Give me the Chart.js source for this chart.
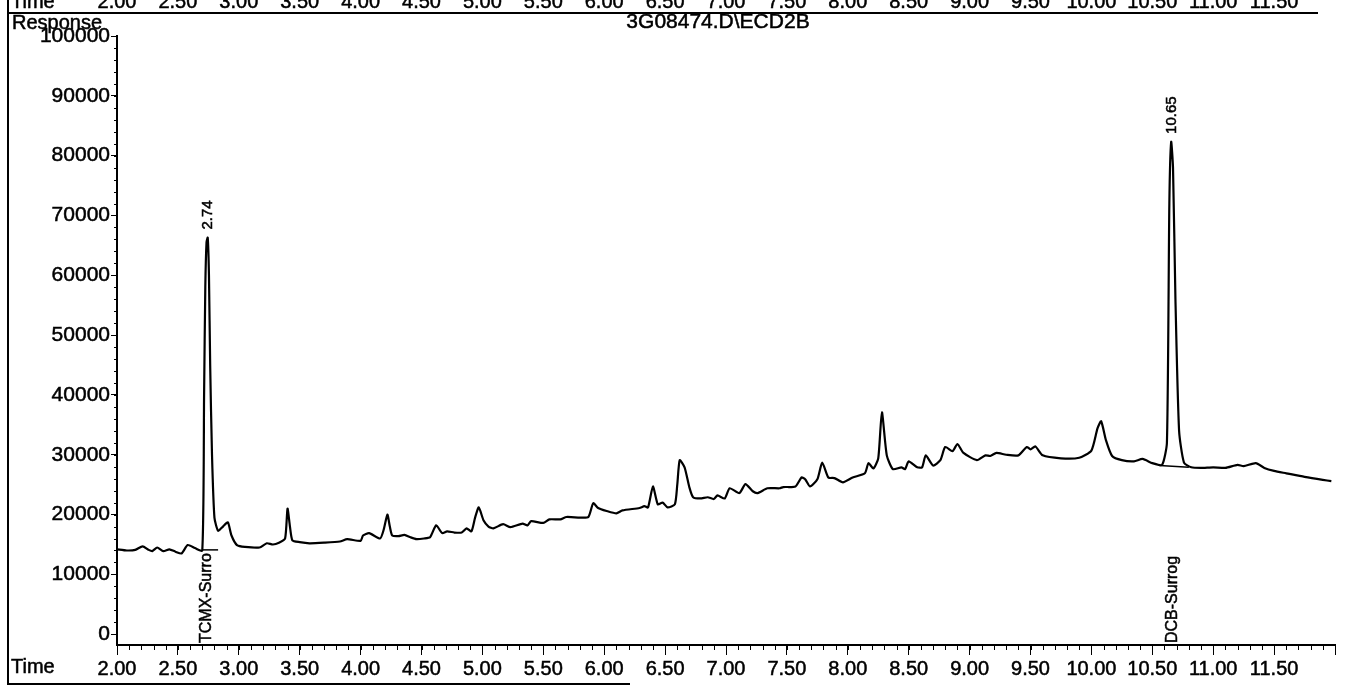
<!DOCTYPE html>
<html>
<head>
<meta charset="utf-8">
<script src="https://cdn.jsdelivr.net/npm/chart.js@4.4.1/dist/chart.umd.min.js"></script>
<style>
  html, body { margin: 0; padding: 0; background: #fff; }
  #wrap { width: 1350px; height: 687px; position: relative; }
</style>
</head>
<body>
<div id="wrap"><canvas id="chrom"></canvas></div>
<script>
// retention time (min) and detector response
const times = [
  2.00, 2.08, 2.15, 2.21, 2.26, 2.29, 2.33, 2.38, 2.43, 2.48, 2.53, 2.58, 2.64, 2.70,
  2.715, 2.725, 2.735, 2.745, 2.755, 2.765, 2.78, 2.80, 2.83, 2.87, 2.91, 2.94, 2.985,
  3.05, 3.17, 3.23, 3.28, 3.33, 3.38, 3.40, 3.42, 3.44, 3.50, 3.58, 3.70, 3.83, 3.89,
  4.00, 4.02, 4.07, 4.16, 4.19, 4.22, 4.24, 4.26, 4.31, 4.36, 4.41, 4.46, 4.52, 4.57,
  4.62, 4.67, 4.71, 4.77, 4.83, 4.87, 4.91, 4.94, 4.97, 5.01, 5.05, 5.09, 5.17, 5.23,
  5.33, 5.37, 5.40, 5.50, 5.55, 5.64, 5.69, 5.80, 5.87, 5.91, 5.95, 6.02, 6.10, 6.15,
  6.29, 6.33, 6.36, 6.40, 6.44, 6.48, 6.52, 6.58, 6.60, 6.62, 6.66, 6.70, 6.73, 6.79,
  6.85, 6.90, 6.93, 6.99, 7.03, 7.11, 7.16, 7.22, 7.26, 7.34, 7.44, 7.47, 7.57, 7.62,
  7.65, 7.69, 7.75, 7.79, 7.84, 7.89, 7.96, 8.04, 8.14, 8.17, 8.21, 8.25, 8.28, 8.32,
  8.37, 8.44, 8.47, 8.50, 8.57, 8.61, 8.64, 8.70, 8.76, 8.80, 8.86, 8.90, 8.95, 9.06,
  9.13, 9.17, 9.22, 9.30, 9.40, 9.47, 9.50, 9.54, 9.60, 9.75, 9.90, 10.00, 10.05, 10.08,
  10.12, 10.17, 10.25, 10.35, 10.42, 10.50, 10.58, 10.62, 10.64, 10.655, 10.67, 10.69,
  10.72, 10.76, 10.82, 10.90, 11.00, 11.10, 11.20, 11.25, 11.35, 11.42, 11.50, 11.60,
  11.75, 11.90, 11.97
];
const responses = [
  14200, 14000, 14100, 14700, 14100, 13900, 14500, 13900, 14200, 13800, 13500, 14900, 14400, 14000,
  40000, 58000, 65500, 66300, 60000, 45000, 30000, 19500, 17300, 18000, 18700, 16500, 14900,
  14600, 14500, 15200, 15000, 15300, 16000, 21000, 18000, 15700, 15400, 15200, 15300, 15500, 15900,
  15600, 16500, 16900, 16000, 17500, 20000, 18000, 16500, 16400, 16600, 16200, 15900, 16000, 16200,
  18200, 16900, 17200, 17000, 17000, 17700, 17200, 19500, 21200, 19000, 18000, 17700, 18400, 17900,
  18500, 18200, 18900, 18600, 19200, 19200, 19600, 19500, 19600, 21900, 21100, 20600, 20200, 20700,
  21100, 21400, 21200, 24700, 21700, 22000, 21200, 21700, 25000, 29100, 27900, 24500, 22900, 22700,
  22900, 22600, 23200, 22700, 24400, 23600, 25100, 23900, 23600, 24400, 24400, 24600, 24700, 26200,
  25900, 24700, 25900, 28700, 26200, 26100, 25400, 26200, 26900, 28600, 27700, 29400, 37100, 29900,
  27600, 27900, 27600, 28900, 27900, 27900, 29900, 28200, 29100, 31300, 30600, 31800, 30300, 29100,
  29900, 29800, 30300, 30000, 29900, 31300, 30900, 31400, 29900, 29400, 29500, 30700, 34400, 35600,
  32400, 29800, 29100, 28900, 29300, 28600, 28300, 32000, 72000, 82300, 78000, 56000,
  34000, 28700, 27900, 27800, 27900, 27800, 28300, 28100, 28600, 27800, 27300, 26900,
  26300, 25800, 25600
];

// integration baselines under the two surrogate peaks
const tcmxBaseTimes = [2.705, 2.83];
const tcmxBaseValues = [14100, 14100];
const dcbBaseTimes = [10.56, 10.80];
const dcbBaseValues = [28200, 27900];

const xTicks = [2.0, 2.5, 3.0, 3.5, 4.0, 4.5, 5.0, 5.5, 6.0, 6.5, 7.0, 7.5, 8.0, 8.5, 9.0, 9.5, 10.0, 10.5, 11.0, 11.5, 12.0];
const yTicks = [0, 10000, 20000, 30000, 40000, 50000, 60000, 70000, 80000, 90000, 100000];

const peakTimes = [2.74, 10.65];
const peakHeights = [66300, 82300];
const peakLabels = ["2.74", "10.65"];
const compoundTimes = [2.72, 10.65];
const compoundNames = ["TCMX-Surro", "DCB-Surrog"];

const title = "3G08474.D\\ECD2B";
const FONT = '"Liberation Sans", Arial, sans-serif';

const toPoints = (xs, ys) => xs.map((t, i) => ({ x: t, y: ys[i] }));

// fill + thin stroke so the text looks as heavy as the scanned print
function heavyText(ctx, text, x, y) {
  ctx.fillText(text, x, y);
  ctx.strokeText(text, x, y);
}

const decorations = {
  id: "decorations",
  afterDraw(chart) {
    const ctx = chart.ctx;
    const xs = chart.scales.x;
    const ys = chart.scales.y;
    ctx.save();
    ctx.fillStyle = "#000";
    ctx.strokeStyle = "#000";

    // minor ticks
    ctx.lineWidth = 1;
    ctx.beginPath();
    for (let i = 20; i <= 120; i++) {
      const px = Math.round(xs.getPixelForValue(i / 10)) + 0.5;
      ctx.moveTo(px, ys.bottom);
      ctx.lineTo(px, ys.bottom + 5);
    }
    for (let v = 0; v <= 100000; v += 2000) {
      const py = Math.round(ys.getPixelForValue(v)) + 0.5;
      ctx.moveTo(xs.left, py);
      ctx.lineTo(xs.left - 3, py);
    }
    ctx.stroke();

    // scanned frame lines
    ctx.lineWidth = 2;
    ctx.beginPath();
    ctx.moveTo(8, 0); ctx.lineTo(8, 685);
    ctx.moveTo(8, 13); ctx.lineTo(1318, 13);
    ctx.moveTo(8, 684); ctx.lineTo(630, 684);
    ctx.stroke();

    // labels
    ctx.lineWidth = 0.5;
    ctx.font = "20px " + FONT;
    ctx.textBaseline = "alphabetic";
    ctx.textAlign = "left";
    heavyText(ctx, "Time", 11, 673);
    heavyText(ctx, "Time", 11, 8);
    heavyText(ctx, "Response", 12, 29);
    ctx.textAlign = "center";
    xTicks.slice(0, -1).forEach((t) => {
      heavyText(ctx, t.toFixed(2), xs.getPixelForValue(t), 8);
    });
    ctx.font = "21px " + FONT;
    heavyText(ctx, title, 718, 28);

    // peak retention times above the peaks
    ctx.font = "15px " + FONT;
    peakTimes.forEach((t, i) => {
      ctx.save();
      ctx.translate(xs.getPixelForValue(t) + 5, ys.getPixelForValue(peakHeights[i]) - 8);
      ctx.rotate(-Math.PI / 2);
      ctx.textAlign = "left";
      heavyText(ctx, peakLabels[i], 0, 0);
      ctx.restore();
    });

    // compound names at the bottom
    ctx.font = "16px " + FONT;
    compoundTimes.forEach((t, i) => {
      ctx.save();
      ctx.translate(xs.getPixelForValue(t) + 6, ys.bottom - 2);
      ctx.rotate(-Math.PI / 2);
      ctx.textAlign = "left";
      heavyText(ctx, compoundNames[i], 0, 0);
      ctx.restore();
    });
    ctx.restore();
  },
};

new Chart(document.getElementById("chrom"), {
  type: "line",
  data: {
    datasets: [
      {
        data: toPoints(times, responses),
        borderColor: "#000",
        borderWidth: 2.2,
        pointRadius: 0,
        tension: 0.2,
      },
      {
        data: toPoints(tcmxBaseTimes, tcmxBaseValues),
        borderColor: "#000",
        borderWidth: 1.5,
        pointRadius: 0,
      },
      {
        data: toPoints(dcbBaseTimes, dcbBaseValues),
        borderColor: "#000",
        borderWidth: 1.5,
        pointRadius: 0,
      },
    ],
  },
  options: {
    responsive: true,
    maintainAspectRatio: false,
    animation: false,
    layout: { padding: { left: 0, right: 15, top: 36, bottom: 0 } },
    plugins: {
      legend: { display: false },
      tooltip: { enabled: false },
    },
    scales: {
      x: {
        type: "linear",
        min: 2,
        max: 12,
        afterBuildTicks: (axis) => {
          axis.ticks = xTicks.map((v) => ({ value: v }));
        },
        afterFit: (axis) => {
          axis.height = 42;
        },
        ticks: {
          autoSkip: false,
          maxRotation: 0,
          padding: 2,
          color: "#000",
          textStrokeColor: "#000",
          textStrokeWidth: 0.5,
          font: { family: FONT, size: 20 },
          callback: (v) => (v >= 12 ? "" : Number(v).toFixed(2)),
        },
        grid: { drawOnChartArea: false, drawTicks: true, tickLength: 10, color: "#000", lineWidth: 1 },
        border: { display: true, color: "#000", width: 2 },
      },
      y: {
        min: -1800,
        max: 100000,
        afterBuildTicks: (axis) => {
          axis.ticks = yTicks.map((v) => ({ value: v }));
        },
        afterFit: (axis) => {
          axis.width = 117;
        },
        ticks: {
          padding: 1,
          color: "#000",
          textStrokeColor: "#000",
          textStrokeWidth: 0.5,
          font: { family: FONT, size: 21 },
          callback: (v) => String(v),
        },
        grid: { drawOnChartArea: false, drawTicks: true, tickLength: 6, color: "#000", lineWidth: 1 },
        border: { display: true, color: "#000", width: 2 },
      },
    },
  },
  plugins: [decorations],
});
</script>
</body>
</html>
